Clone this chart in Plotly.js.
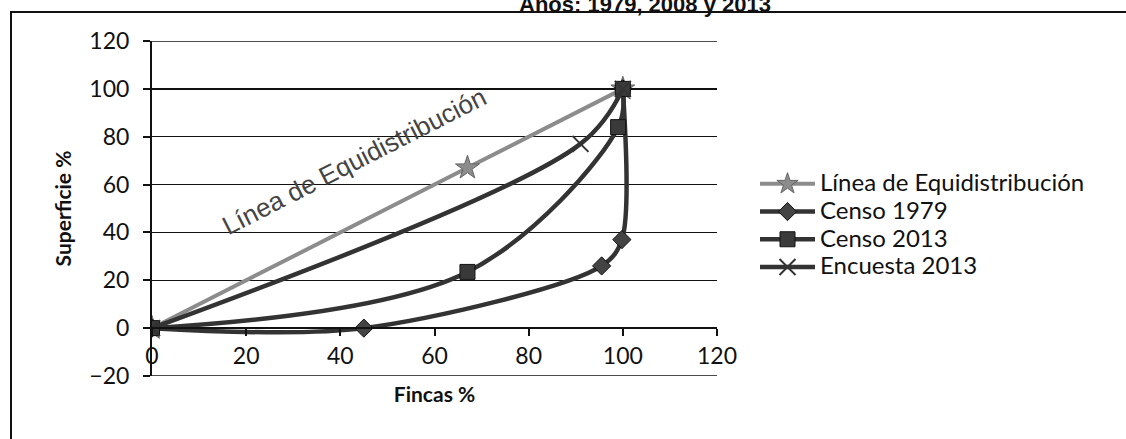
<!DOCTYPE html>
<html>
<head>
<meta charset="utf-8">
<script src="https://cdn.plot.ly/plotly-3.0.1.min.js"></script>
<style>html,body{margin:0;padding:0;background:#fff;}#chart{width:1126px;height:439px;}</style>
</head>
<body>
<div id="chart"></div>
<script>
const seriesNames = ["Línea de Equidistribución", "Censo 1979", "Censo 2013", "Encuesta 2013"];
const equiX = [0, 67, 100];
const equiY = [0, 67, 100];
const censo1979X = [0, 45, 95.5, 99.8, 100];
const censo1979Y = [0, 0, 26, 37, 100];
const censo2013X = [0, 67, 99, 100];
const censo2013Y = [0, 23.5, 84, 100];
const encuestaX = [0, 91, 100];
const encuestaY = [0, 77, 100];
const xRange = [0, 120];
const yRange = [-20, 120];
const titleText = "Años: 1979, 2008 y 2013";
const xTitle = "Fincas %";
const yTitle = "Superficie %";
const lineLabel = "Línea de Equidistribución";

const F = "Lato, 'Open Sans', sans-serif";
const dark = "#333333";
const gray = "#8c8c8c";
const legName = s => '<span style="font-size:24px">' + s + '</span>';

const traces = [
  {x: equiX, y: equiY, name: legName(seriesNames[0]), mode: "lines+markers",
   line: {color: gray, width: 4, shape: "spline"},
   marker: {symbol: "star", size: 18, color: gray, line: {color: "#666", width: 1}}},
  {x: censo1979X, y: censo1979Y, name: legName(seriesNames[1]), mode: "lines+markers",
   line: {color: dark, width: 4.5, shape: "spline", smoothing: 0.9},
   marker: {symbol: "diamond", size: 14, color: "#444", line: {color: "#111", width: 1}}},
  {x: censo2013X, y: censo2013Y, name: legName(seriesNames[2]), mode: "lines+markers",
   line: {color: dark, width: 4.5, shape: "spline", smoothing: 1},
   marker: {symbol: "square", size: 15, color: "#3a3a3a", line: {color: "#111", width: 1}}},
  {x: encuestaX, y: encuestaY, name: legName(seriesNames[3]), mode: "lines+markers",
   line: {color: dark, width: 4.5, shape: "spline", smoothing: 1},
   marker: {symbol: "x-thin-open", size: 16, color: dark, line: {color: dark, width: 2}}}
];

const W = 1126, H = 439, L = 152, R = 409, T = 41, B = 63;
const pw = W - L - R, ph = H - T - B;
const px = X => (X - L) / pw;
const py = Y => (H - B - Y) / ph;

const edgeGrid = yRange.map(v => ({
  type: "line", xref: "paper", yref: "y", x0: 0, x1: 1, y0: v, y1: v,
  line: {color: "#111", width: 1.5}, layer: "below"
}));

const layout = {
  width: W, height: H,
  margin: {l: L, r: R, t: T, b: B, pad: 0},
  paper_bgcolor: "#fff", plot_bgcolor: "#fff",
  showlegend: true,
  hovermode: false,
  font: {family: F, color: "#111"},
  xaxis: {
    range: xRange, dtick: 20, tick0: 0,
    anchor: "free", position: (0 - yRange[0]) / (yRange[1] - yRange[0]),
    showline: true, linecolor: "#111", linewidth: 2,
    ticks: "outside", ticklen: 7, tickwidth: 2, tickcolor: "#111",
    showgrid: false, zeroline: false,
    tickfont: {family: F, size: 23, color: "#111"},
    title: {text: "<b>" + xTitle + "</b>", font: {family: F, size: 21, color: "#111"}, standoff: 19}
  },
  yaxis: {
    range: yRange, dtick: 20, tick0: 0,
    showline: true, linecolor: "#111", linewidth: 2,
    ticks: "outside", ticklen: 7, tickwidth: 2, tickcolor: "#111",
    ticklabelstandoff: 9,
    showgrid: true, gridcolor: "#111", gridwidth: 1.5,
    zeroline: false,
    tickfont: {family: F, size: 23, color: "#111"},
    title: {text: "<b>" + yTitle + "</b>", font: {family: F, size: 21, color: "#111"}, standoff: 12}
  },
  legend: {
    x: px(755), y: py(165), xanchor: "left", yanchor: "top",
    font: {family: F, size: 19, color: "#111"},
    itemwidth: 55, bgcolor: "rgba(0,0,0,0)", borderwidth: 0
  },
  annotations: [
    {text: "<b>" + titleText + "</b>", xref: "paper", yref: "paper",
     x: px(645), y: py(19), xanchor: "center", yanchor: "bottom", showarrow: false,
     font: {family: "'Liberation Sans', Arial, sans-serif", size: 22, color: "#111"}},
    {text: lineLabel, xref: "x", yref: "y", x: 43, y: 70, showarrow: false,
     textangle: -27, font: {family: "'Liberation Sans', Arial, sans-serif", size: 26, color: "#444"}}
  ],
  shapes: [
    {type: "rect", xref: "paper", yref: "paper", x0: px(11), x1: px(1140), y0: py(12), y1: py(450),
     line: {color: "#111", width: 2}, fillcolor: "rgba(0,0,0,0)", layer: "below"}
  ].concat(edgeGrid)
};

Plotly.newPlot("chart", traces, layout, {displayModeBar: false, staticPlot: true});
</script>
</body>
</html>
